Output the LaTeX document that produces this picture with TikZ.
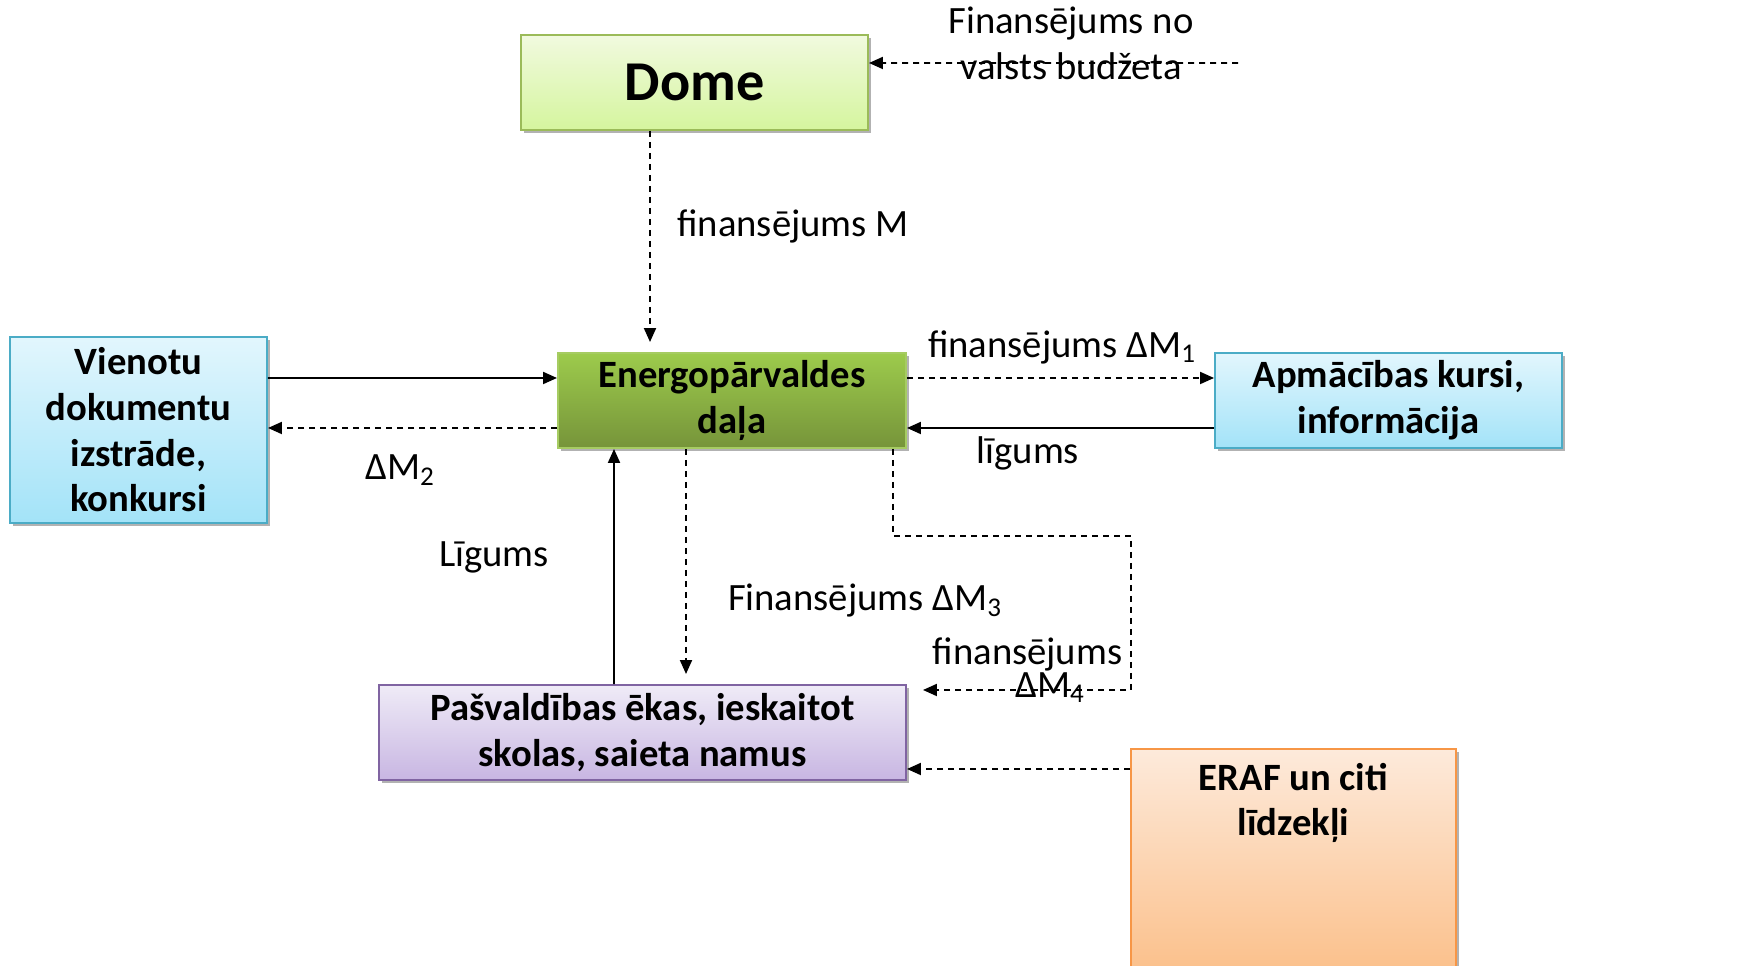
\documentclass[tikz,border=0pt]{standalone}
\usepackage{fontspec}
\setmainfont{Carlito}
\usetikzlibrary{arrows.meta,shadows}

\definecolor{DomeTop}{HTML}{F1FADF}
\definecolor{DomeBot}{HTML}{D5F59E}
\definecolor{DomeLine}{HTML}{9BBB59}
\definecolor{EnerTop}{HTML}{9DCB4C}
\definecolor{EnerBot}{HTML}{76943A}
\definecolor{EnerLine}{HTML}{A6CC62}
\definecolor{BlueTop}{HTML}{E2F6FD}
\definecolor{BlueBot}{HTML}{A3E3F8}
\definecolor{BlueLine}{HTML}{4BACC6}
\definecolor{LilaTop}{HTML}{EFEBF7}
\definecolor{LilaBot}{HTML}{C8B6E2}
\definecolor{LilaLine}{HTML}{8064A2}
\definecolor{OrangeTop}{HTML}{FDEADB}
\definecolor{OrangeBot}{HTML}{FBBD85}
\definecolor{OrangeLine}{HTML}{F79646}

\begin{document}
\begin{tikzpicture}
[
Box/.style={rectangle, line width=1.1pt, minimum height=1.9cm, align=center, inner sep=2pt,
  font=\fontsize{22}{26}\selectfont\bfseries,
  drop shadow={shadow xshift=0.05cm, shadow yshift=-0.07cm, opacity=0.3, fill=black}},
DomeBox/.style={Box, draw=DomeLine, top color=DomeTop, bottom color=DomeBot},
EnerBox/.style={Box, draw=EnerLine, top color=EnerTop, bottom color=EnerBot},
BlueBox/.style={Box, draw=BlueLine, top color=BlueTop, bottom color=BlueBot},
LilaBox/.style={Box, draw=LilaLine, top color=LilaTop, bottom color=LilaBot},
OrangeBox/.style={Box, draw=OrangeLine, top color=OrangeTop, bottom color=OrangeBot},
BoxText/.style={align=center, inner sep=0pt, font=\fontsize{22}{26}\selectfont\bfseries},
Label/.style={align=center, inner sep=0pt, font=\fontsize{22}{26}\selectfont},
SolidArrow/.style={-{Triangle[length=0.28cm,width=0.24cm]}, line width=1.1pt},
DashArrow/.style={-{Triangle[length=0.28cm,width=0.24cm]}, line width=1.1pt, dash pattern=on 0.12cm off 0.1cm},
]

\useasboundingbox (0,0) rectangle (35.16,19.32);
\clip (0,0) rectangle (35.16,19.32);
\fill[white] (0,0) rectangle (35.16,19.32);

% boxes
\node[DomeBox, minimum width=6.94cm, font=\fontsize{32}{38}\selectfont\bfseries] (dome) at (13.89,17.67) {Dome};
\node[EnerBox, minimum width=6.96cm] (ener) at (14.64,11.31) {Energopārvaldes\\daļa};
\node[BlueBox, minimum width=5.14cm, minimum height=3.72cm] (vien) at (2.77,10.72) {Vienotu\\dokumentu\\izstrāde,\\konkursi};
\node[BlueBox, minimum width=6.94cm] (apm) at (27.77,11.31) {Apmācības kursi,\\informācija};
\node[LilaBox, minimum width=10.54cm] (pasv) at (12.85,4.67) {Pašvaldības ēkas, ieskaitot\\skolas, saieta namus};
\node[OrangeBox, minimum width=6.5cm, minimum height=4.8cm, anchor=north] (eraf) at (25.87,4.36) {};
\node[BoxText] (erafText) at (25.87,3.26) {ERAF un citi\\līdzekļi};

% free end of the budget arrow
\coordinate (budget) at (24.76,18.06);

% connectors
\draw[DashArrow] (budget) -- ([yshift=0.39cm]dome.east);
\draw[DashArrow, shorten >=0.2cm] ([xshift=-0.89cm]dome.south) -- ([xshift=-0.89cm]dome.south |- ener.north);
\draw[SolidArrow] ([yshift=1.04cm]vien.east) -- ([yshift=0.45cm]ener.west);
\draw[DashArrow] ([yshift=-0.55cm]ener.west) -- ([yshift=0.04cm]vien.east);
\draw[DashArrow] ([yshift=0.45cm]ener.east) -- ([yshift=0.45cm]apm.west);
\draw[SolidArrow] ([yshift=-0.55cm]apm.west) -- ([yshift=-0.55cm]ener.east);
\draw[SolidArrow] ([xshift=-0.57cm]pasv.north) -- ([xshift=-2.36cm]ener.south);
\draw[DashArrow, shorten >=0.2cm] ([xshift=-0.92cm]ener.south) -- ([xshift=-0.92cm]ener.south |- pasv.north);
\draw[DashArrow] ([xshift=3.22cm]ener.south) -- ++(0,-1.74) -- ++(4.76,0) |- ([xshift=0.32cm,yshift=0.85cm]pasv.east);
\draw[DashArrow] ([yshift=-0.42cm]eraf.north west) -- ([yshift=-0.73cm]pasv.east);

% labels
\node[Label] (lbudget) at (21.42,18.45) {Finansējums no\\valsts budžeta};
\node[Label] (lM) at (15.86,14.8) {finansējums M};
\node[Label] (lM1) at (21.24,12.38) {finansējums ΔM\textsubscript{1}};
\node[Label] (lM2) at (8.0,9.92) {ΔM\textsubscript{2}};
\node[Label] (lLig) at (20.56,10.26) {līgums};
\node[Label] (lLigB) at (9.88,8.18) {Līgums};
\node[Label] (lM3) at (17.3,7.3) {Finansējums ΔM\textsubscript{3}};
\node[Label, font=\fontsize{22}{17}\selectfont] (lM4) at (20.55,5.92) {finansējums\\\hspace*{0.9cm}ΔM\textsubscript{4}};

\end{tikzpicture}
\end{document}
